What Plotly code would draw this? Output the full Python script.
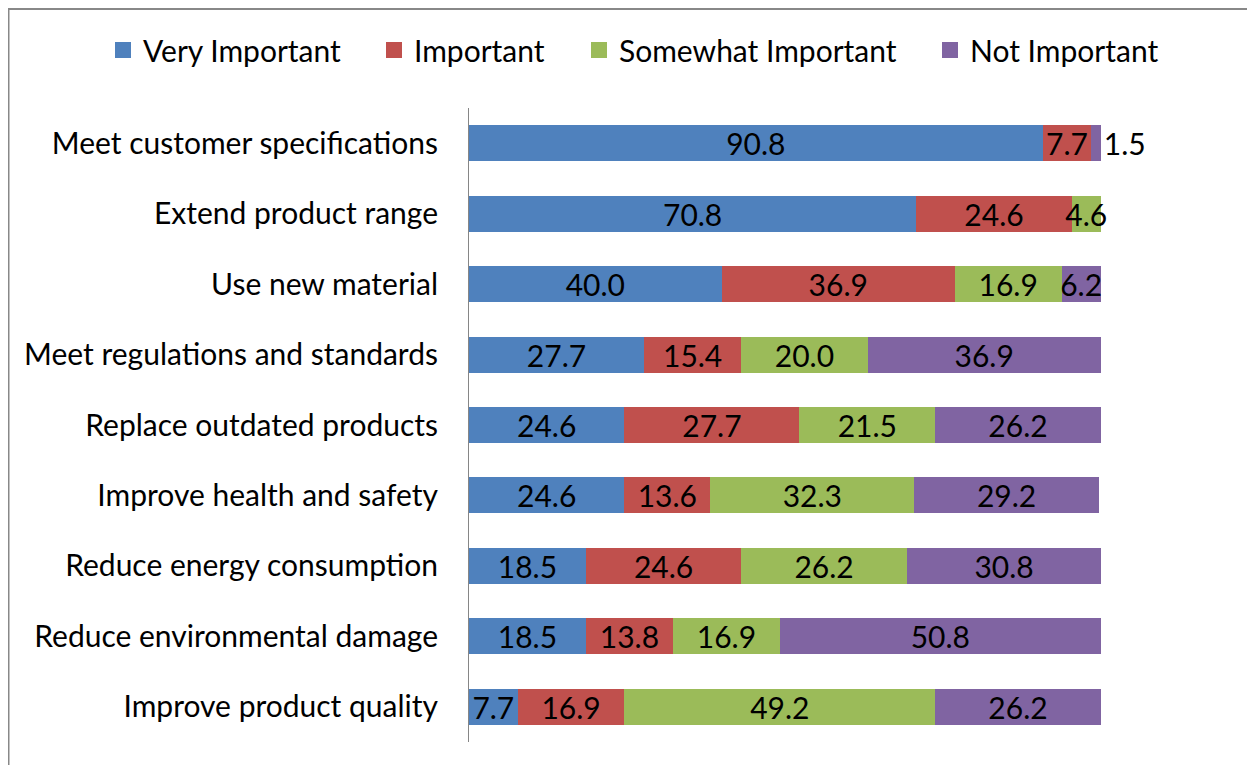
import plotly.graph_objects as go

categories = [
    "Meet customer specifications",
    "Extend product range",
    "Use new material",
    "Meet regulations and standards",
    "Replace outdated products",
    "Improve health and safety",
    "Reduce energy consumption",
    "Reduce environmental damage",
    "Improve product quality",
]
very_important = [90.8, 70.8, 40.0, 27.7, 24.6, 24.6, 18.5, 18.5, 7.7]
important = [7.7, 24.6, 36.9, 15.4, 27.7, 13.6, 24.6, 13.8, 16.9]
somewhat_important = [0, 4.6, 16.9, 20.0, 21.5, 32.3, 26.2, 16.9, 49.2]
not_important = [1.5, 0, 6.2, 36.9, 26.2, 29.2, 30.8, 50.8, 26.2]

series = [
    ("Very Important", very_important, "#4F81BD"),
    ("Important", important, "#C0504D"),
    ("Somewhat Important", somewhat_important, "#9BBB59"),
    ("Not Important", not_important, "#8064A2"),
]

FONT = "Lato"
FS = 30
XMAX = 100.2

W, H = 1255, 765
OFF = 8  # page offset of the figure (body margin)
L = 469 - OFF
T = 108 - OFF
B = H - (742 - OFF)
pw = round(632 * XMAX / 100)
R = W - L - pw
ph = H - T - B

def px_x(x):
    return (x - OFF - L) / pw

def px_y(y):
    return (H - B - (y - OFF)) / ph

legend_text_starts = [143, 414, 619, 970]
legend_names = ["legend", "legend2", "legend3", "legend4"]

fig = go.Figure()
for i, (name, vals, color) in enumerate(series):
    texts = ["" if v == 0 else f"{v:.1f}" for v in vals]
    if name == "Not Important":
        pos = ["outside" if v < 3 else "inside" for v in vals]
    else:
        pos = ["inside"] * len(vals)
    fig.add_trace(go.Bar(
        name=name, y=categories, x=vals, orientation="h",
        marker=dict(color=color, line=dict(width=0)),
        text=texts, textposition=pos, insidetextanchor="middle",
        textangle=0, constraintext="none",
        textfont=dict(family=FONT, size=FS, color="black"),
        outsidetextfont=dict(family=FONT, size=FS, color="black"),
        insidetextfont=dict(family=FONT, size=FS, color="black"),
        cliponaxis=False, showlegend=False, legendgroup=name,
    ))
    # legend-only entry with a larger square key
    fig.add_trace(go.Scatter(
        name=name, x=[None], y=[None], mode="markers",
        marker=dict(symbol="square", size=18, color=color),
        legend=legend_names[i], legendgroup=name, showlegend=True,
        hoverinfo="skip",
    ))

layout_legends = {}
for i, ln in enumerate(legend_names):
    layout_legends[ln] = dict(
        orientation="h", x=px_x(legend_text_starts[i] - 40), xanchor="left",
        y=px_y(50), yanchor="middle",
        font=dict(family=FONT, size=FS, color="black"),
        itemwidth=30, bgcolor="rgba(0,0,0,0)",
    )

fig.update_layout(
    width=W, height=H,
    barmode="stack", bargap=0.49,
    margin=dict(l=L, r=R, t=T, b=B, autoexpand=False),
    paper_bgcolor="white", plot_bgcolor="white",
    font=dict(family=FONT, size=FS, color="black"),
    uniformtext=dict(minsize=FS, mode="show"),
    xaxis=dict(range=[0, XMAX], visible=False, fixedrange=True),
    yaxis=dict(
        autorange="reversed", showline=True, linecolor="#868686", linewidth=1,
        showgrid=False, ticks="", ticklabelstandoff=24,
        tickfont=dict(family=FONT, size=FS, color="black"),
    ),
    shapes=[dict(
        type="rect", xref="paper", yref="paper",
        x0=px_x(8.5), x1=px_x(1253), y0=px_y(800), y1=px_y(9),
        line=dict(color="#888888", width=2), fillcolor="rgba(0,0,0,0)",
        layer="below",
    )],
    **layout_legends,
)

fig.write_html("out.html")
